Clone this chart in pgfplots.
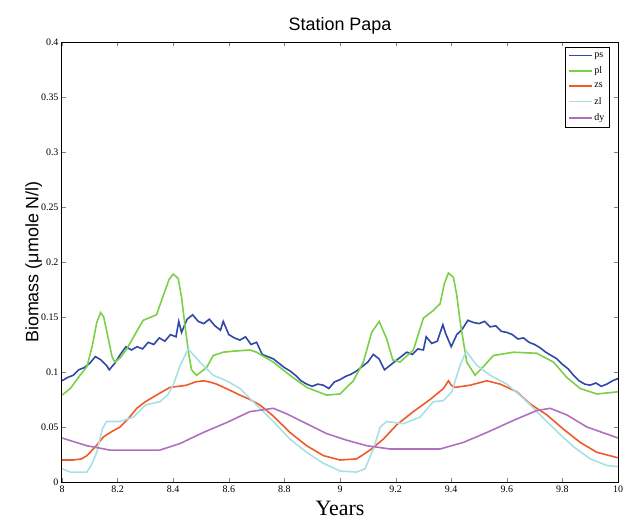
\documentclass[border=0pt]{standalone}
\usepackage{pgfplots}
\pgfplotsset{compat=1.18}
\usepackage{fontspec}
\setmainfont{Liberation Serif}
\newfontfamily\arial{Liberation Sans}

\definecolor{cps}{RGB}{48,72,168}
\definecolor{cpl}{RGB}{122,208,70}
\definecolor{czs}{RGB}{240,90,40}
\definecolor{czl}{RGB}{170,224,228}
\definecolor{cdy}{RGB}{176,112,192}

\begin{document}
\begin{tikzpicture}
\path[use as bounding box] (-62bp,-42bp) rectangle (563bp,482bp);
\begin{axis}[
  at={(0,0)}, anchor=south west,
  scale only axis,
  width=556bp, height=440bp,
  xmin=8, xmax=10, ymin=0, ymax=0.4,
  xtick={8,8.2,...,10.01},
  ytick={0,0.05,...,0.41},
  tick align=inside,
  major tick length=4bp,
  axis line style={line width=1bp},
  /pgf/number format/assume math mode=true,
  xticklabel style={font=\fontsize{10}{10}\selectfont, /pgf/number format/fixed, /pgf/number format/precision=1},
  yticklabel style={font=\fontsize{10}{10}\selectfont, /pgf/number format/fixed, /pgf/number format/precision=2},
  title={\arial Station Papa},
  title style={font=\fontsize{18}{18}\selectfont, yshift=-2bp},
  xlabel={Years},
  xlabel style={font=\fontsize{22}{22}\selectfont, yshift=-2bp},
  ylabel={\arial Biomass (μmole N/l)},
  ylabel style={font=\fontsize{18}{18}\selectfont, yshift=-8bp},
  legend style={at={(0.985,0.988)}, anchor=north east, font=\fontsize{10}{10}\selectfont,
    draw=black, line width=0.6bp, inner sep=3bp, row sep=4bp},
  legend image code/.code={\draw[line width=1.6bp] (0cm,0cm) -- (0.8cm,0cm);},
  legend cell align=left,
  every axis plot/.append style={line width=1.6bp},
]
% ps
\addplot[cps] coordinates {
(8.00,0.092) (8.02,0.095) (8.04,0.097) (8.06,0.102) (8.08,0.104) (8.10,0.108)
(8.12,0.114) (8.14,0.111) (8.16,0.106) (8.17,0.102) (8.19,0.108) (8.21,0.116)
(8.23,0.123) (8.25,0.120) (8.27,0.123) (8.29,0.121) (8.31,0.127) (8.33,0.125)
(8.35,0.131) (8.37,0.128) (8.39,0.134) (8.41,0.132) (8.42,0.146) (8.43,0.136)
(8.45,0.148) (8.47,0.152) (8.49,0.146) (8.51,0.144) (8.53,0.148) (8.55,0.142)
(8.57,0.138) (8.58,0.146) (8.60,0.134) (8.62,0.131) (8.64,0.129) (8.66,0.132)
(8.68,0.125) (8.70,0.127) (8.72,0.116) (8.74,0.114) (8.76,0.112) (8.78,0.108)
(8.80,0.104) (8.82,0.101) (8.84,0.097) (8.86,0.092) (8.88,0.089) (8.90,0.087)
(8.92,0.089) (8.94,0.088) (8.96,0.085) (8.98,0.091) (9.00,0.093) (9.02,0.096)
(9.04,0.098) (9.06,0.101) (9.08,0.105) (9.10,0.109) (9.12,0.116) (9.14,0.112)
(9.16,0.102) (9.18,0.106) (9.20,0.110) (9.22,0.114) (9.24,0.118) (9.26,0.116)
(9.28,0.121) (9.30,0.120) (9.31,0.132) (9.33,0.126) (9.35,0.128) (9.37,0.143)
(9.38,0.135) (9.40,0.123) (9.42,0.134) (9.44,0.139) (9.46,0.147) (9.48,0.145)
(9.50,0.144) (9.52,0.146) (9.54,0.141) (9.56,0.142) (9.58,0.137) (9.60,0.136)
(9.62,0.134) (9.64,0.130) (9.66,0.131) (9.68,0.127) (9.70,0.125) (9.72,0.122)
(9.74,0.118) (9.76,0.115) (9.78,0.112) (9.80,0.107) (9.82,0.103) (9.84,0.097)
(9.86,0.092) (9.88,0.089) (9.90,0.088) (9.92,0.090) (9.94,0.087) (9.96,0.089)
(9.98,0.092) (10.00,0.094)
};
% pl
\addplot[cpl] coordinates {
(8.00,0.079) (8.03,0.085) (8.065,0.097) (8.09,0.105) (8.11,0.125) (8.125,0.145)
(8.139,0.154) (8.15,0.150) (8.165,0.132) (8.18,0.114) (8.19,0.109) (8.21,0.113)
(8.233,0.121) (8.26,0.133) (8.292,0.147) (8.34,0.152) (8.365,0.170) (8.385,0.184)
(8.40,0.189) (8.418,0.185) (8.43,0.168) (8.442,0.143) (8.455,0.118) (8.466,0.102)
(8.484,0.097) (8.52,0.104) (8.544,0.115) (8.58,0.118) (8.62,0.119) (8.676,0.120)
(8.70,0.118) (8.76,0.109) (8.82,0.097) (8.88,0.086) (8.952,0.079) (9.00,0.080)
(9.048,0.092) (9.084,0.109) (9.114,0.136) (9.141,0.146) (9.168,0.130) (9.19,0.111)
(9.216,0.109) (9.264,0.120) (9.30,0.149) (9.336,0.156) (9.36,0.162) (9.375,0.180)
(9.39,0.190) (9.408,0.186) (9.42,0.170) (9.432,0.146) (9.456,0.109) (9.486,0.097)
(9.516,0.105) (9.552,0.115) (9.624,0.118) (9.708,0.117) (9.768,0.109) (9.816,0.095)
(9.864,0.085) (9.924,0.080) (10.00,0.082)
};
% zs
\addplot[czs] coordinates {
(8.00,0.020) (8.04,0.020) (8.07,0.021) (8.09,0.024) (8.12,0.032) (8.149,0.041)
(8.18,0.046) (8.209,0.050) (8.24,0.058) (8.269,0.067) (8.30,0.073) (8.34,0.079)
(8.388,0.086) (8.42,0.087) (8.448,0.088) (8.48,0.091) (8.508,0.092) (8.53,0.091)
(8.556,0.089) (8.59,0.085) (8.616,0.082) (8.64,0.079) (8.676,0.075) (8.712,0.070)
(8.76,0.060) (8.82,0.045) (8.88,0.033) (8.94,0.024) (9.00,0.020) (9.06,0.021)
(9.108,0.029) (9.156,0.039) (9.204,0.052) (9.264,0.064) (9.324,0.075) (9.372,0.085)
(9.39,0.092) (9.40,0.088) (9.414,0.086) (9.468,0.088) (9.528,0.092) (9.576,0.089)
(9.636,0.082) (9.684,0.071) (9.744,0.061) (9.804,0.048) (9.864,0.036) (9.924,0.027)
(10.00,0.022)
};
% zl
\addplot[czl] coordinates {
(8.00,0.012) (8.03,0.009) (8.089,0.009) (8.105,0.015) (8.125,0.027) (8.145,0.048)
(8.16,0.055) (8.209,0.055) (8.257,0.059) (8.30,0.070) (8.352,0.073) (8.38,0.079)
(8.40,0.088) (8.425,0.106) (8.454,0.121) (8.475,0.115) (8.496,0.109) (8.544,0.097)
(8.592,0.092) (8.64,0.085) (8.676,0.076) (8.712,0.067) (8.76,0.055) (8.82,0.039)
(8.88,0.027) (8.94,0.017) (9.00,0.010) (9.06,0.009) (9.09,0.012) (9.12,0.030)
(9.145,0.050) (9.168,0.055) (9.228,0.053) (9.288,0.059) (9.336,0.073) (9.372,0.074)
(9.402,0.082) (9.432,0.106) (9.454,0.119) (9.492,0.106) (9.54,0.097) (9.60,0.089)
(9.66,0.076) (9.72,0.061) (9.78,0.046) (9.84,0.032) (9.90,0.021) (9.96,0.015)
(10.00,0.014)
};
% dy
\addplot[cdy] coordinates {
(8.00,0.040) (8.089,0.033) (8.173,0.029) (8.352,0.029) (8.425,0.035) (8.508,0.045)
(8.592,0.054) (8.676,0.064) (8.76,0.067) (8.808,0.062) (8.88,0.053) (8.952,0.044)
(9.024,0.038) (9.096,0.033) (9.18,0.030) (9.36,0.030) (9.444,0.036) (9.528,0.045)
(9.624,0.056) (9.708,0.065) (9.756,0.067) (9.816,0.061) (9.888,0.050) (10.00,0.040)
};
\legend{ps, pl, zs, zl, dy}
\end{axis}
\end{tikzpicture}
\end{document}
